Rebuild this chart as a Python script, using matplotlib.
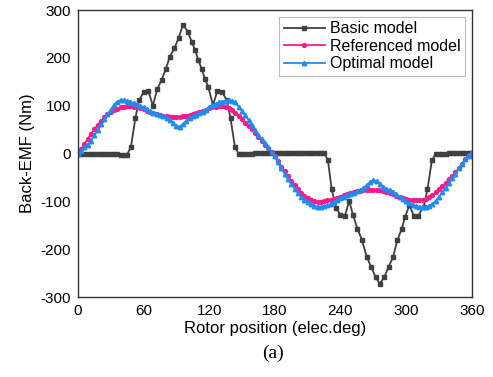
import matplotlib
matplotlib.use('Agg')
import matplotlib.pyplot as plt

# Basic model
basic_x = [0, 3, 6, 9, 12, 15, 18, 21, 24, 27, 30, 33, 36, 39, 42, 45,
           48.5, 52.5, 56, 60, 64.5, 68.5, 72.5, 76.5, 80.5, 84, 88, 92, 96,
           100.5, 104, 107, 110, 113, 116, 119, 123.5, 127.5, 132, 136, 139.5,
           143.5, 147,
           150, 153, 156, 159, 162, 165, 168, 171, 174, 177, 180, 183, 186,
           189, 192, 195, 198, 201, 204, 207, 210, 213, 216, 219, 222, 225,
           228.5, 232, 236, 240, 244, 248, 251.5, 255.5, 259.5, 264, 268, 272,
           276, 280, 284, 288, 292, 296, 299, 303, 307, 311, 316, 319.5, 323.5,
           327,
           330, 333, 336, 339, 342, 345, 348, 351, 354, 357, 360]
basic_y = [0, 0, 0, 0, 0, 0, 0, 0, 0, 0, 0, -1, -1, -2, -2, -2,
           14, 74, 112, 128, 131, 100, 135, 154, 178, 203, 220, 241, 270,
           255, 234, 217, 196, 178, 157, 140, 102, 131, 128, 112, 74,
           14, -1,
           0, 0, 0, 0, 1, 1, 1, 1, 1, 1, 1, 1, 1,
           1, 1, 1, 1, 1, 1, 1, 2, 2, 2, 2, 2, 2,
           -14, -75, -113, -129, -130, -99, -129, -157, -180, -216, -237, -258,
           -272, -258, -237, -216, -181, -157, -132, -108, -130, -130, -111, -75, -14,
           -1,
           0, 0, 0, 1, 1, 1, 1, 1, 1, 1, 1]

# Referenced and optimal models, every 3 elec.deg
pos = list(range(0, 361, 3))
referenced = [0, 10, 21, 31, 41, 51, 60, 68, 76, 82, 87, 91, 94, 97, 98, 99,
              99, 98, 97, 95, 93, 90, 88, 85, 83, 81, 79, 78, 77, 77, 77, 77,
              78, 79, 81, 83, 85, 87, 90, 92, 95, 97, 98, 99, 99, 98, 96, 92,
              86, 79, 72, 65, 58, 51, 43, 35, 27, 19, 11, 3, -6,
              -16, -27, -37, -47, -57, -66, -74, -82, -88, -93, -97, -99, -101,
              -101, -100, -98, -96, -94, -92, -90, -87, -85, -83, -81, -79, -78,
              -77, -76, -76, -76, -76, -77, -79, -81, -83, -85, -88, -90, -93,
              -95, -97, -98, -98, -97, -96, -94, -91, -86, -81, -75, -68, -61,
              -54, -47, -39, -31, -22, -12, -3, 2]
optimal = [0, 6, 13, 19, 27, 38, 49, 61, 72, 82, 92, 102, 109, 112, 112, 111,
           109, 106, 103, 100, 97, 93, 89, 86, 83, 80, 78, 75, 71, 65, 58, 56,
           62, 68, 74, 78, 81, 84, 88, 92, 97, 101, 104, 107, 109, 111, 112,
           111, 107, 98, 89, 80, 70, 60, 50, 40, 31, 22, 13, 4, -5,
           -17, -30, -43, -54, -64, -73, -82, -90, -96, -101, -105, -109, -111,
           -111, -110, -108, -105, -101, -97, -93, -90, -87, -85, -82, -79, -76,
           -72, -66, -59, -55, -58, -64, -69, -73, -76, -80, -85, -90, -95,
           -99, -103, -107, -110, -111, -112, -112, -110, -105, -99, -90, -81,
           -72, -62, -52, -42, -31, -21, -12, -4, 3]

plt.rcParams['font.family'] = ['Liberation Sans', 'DejaVu Sans']
plt.rcParams['axes.unicode_minus'] = False

fig = plt.figure(figsize=(4.93, 3.77), dpi=100)
ax = fig.add_axes([0.158, 0.212, 0.799, 0.761])

ax.plot(basic_x, basic_y, color='#404040', marker='s', markersize=2.6,
        linewidth=1.3, label='Basic model')
ax.plot(pos, referenced, color='#ff1a8c', marker='o', markersize=2.8,
        linewidth=1.3, label='Referenced model')
ax.plot(pos, optimal, color='#1e8cf0', marker='^', markersize=3.2,
        linewidth=1.3, label='Optimal model')

ax.set_xlim(0, 360)
ax.set_ylim(-300, 300)
ax.set_xticks(range(0, 361, 60))
ax.set_yticks(range(-300, 301, 100))
ax.tick_params(length=0, labelsize=11, pad=5)
for s in ax.spines.values():
    s.set_color('#333333')
    s.set_linewidth(1.0)

ax.set_xlabel('Rotor position (elec.deg)', fontsize=12, labelpad=2)
ax.set_ylabel('Back-EMF (Nm)', fontsize=12, labelpad=4)

leg = ax.legend(loc='upper right', fontsize=11.5, fancybox=False,
                handlelength=2.6, borderpad=0.3, labelspacing=0.15,
                handletextpad=0.3, borderaxespad=0.4)
leg.get_frame().set_edgecolor('#aaaaaa')
leg.get_frame().set_linewidth(0.8)

fig.text(0.553, 0.05, '(a)', fontsize=14, family='Liberation Serif',
         ha='center')

fig.savefig('out.png', dpi=100)
